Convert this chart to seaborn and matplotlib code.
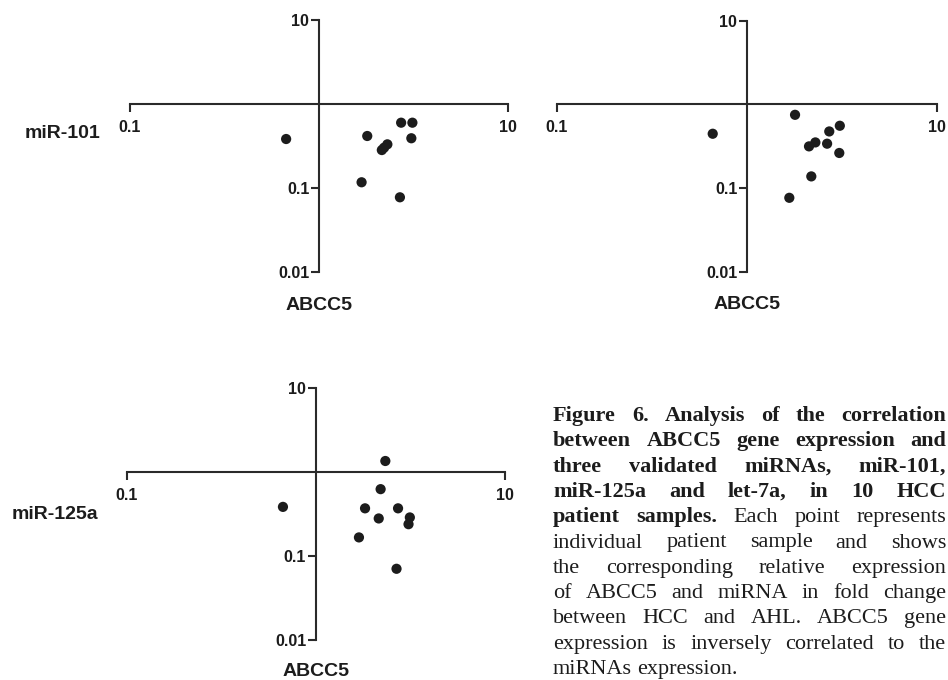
import numpy as np
import pandas as pd
import matplotlib
matplotlib.use("Agg")
import matplotlib.pyplot as plt
import seaborn as sns
from matplotlib.ticker import FixedLocator, FixedFormatter, NullLocator

# Relative expression (fold change HCC vs AHL), 10 patient samples per panel
abcc5_mir101 = [0.67, 1.80, 2.15, 2.21, 2.30, 2.72, 3.12, 3.08, 1.68, 2.68]
mir101 = [0.383, 0.416, 0.283, 0.302, 0.331, 0.599, 0.599, 0.391, 0.117, 0.0775]

abcc5_let7a = [0.66, 1.79, 2.12, 2.29, 2.64, 2.71, 3.08, 3.06, 2.18, 1.67]
let7a = [0.443, 0.746, 0.313, 0.349, 0.337, 0.472, 0.552, 0.261, 0.137, 0.076]

abcc5_mir125a = [0.67, 2.33, 2.20, 1.82, 2.72, 2.15, 3.14, 3.09, 1.69, 2.67]
mir125a = [0.386, 1.36, 0.628, 0.371, 0.371, 0.281, 0.289, 0.240, 0.167, 0.0706]

x_ticks = [0.1, 10]
x_tick_labels = ["0.1", "10"]
y_ticks = [0.01, 0.1, 10]
y_tick_labels = ["0.01", "0.1", "10"]

gene_label = "ABCC5"

caption_lines = [
    [("Figure 6. Analysis of the correlation", "bold")],
    [("between ABCC5 gene expression and", "bold")],
    [("three validated miRNAs, miR-101,", "bold")],
    [("miR-125a and let-7a, in 10 HCC", "bold")],
    [("patient samples.", "bold"), ("Each point represents", "normal")],
    [("individual patient sample and shows", "normal")],
    [("the corresponding relative expression", "normal")],
    [("of ABCC5 and miRNA in fold change", "normal")],
    [("between HCC and AHL. ABCC5 gene", "normal")],
    [("expression is inversely correlated to the", "normal")],
    [("miRNAs expression.", "normal")],
]

W, H = 948, 680
INK = "#1c1c1c"
AXIS = "#2a2a2a"

sns.set_style("ticks")
plt.rcParams["font.family"] = ["Liberation Sans", "DejaVu Sans"]

fig = plt.figure(figsize=(W / 100, H / 100), dpi=100)
fig.patch.set_facecolor("white")


def px_rect(x0, y0, x1, y1):
    return [x0 / W, 1 - y1 / H, (x1 - x0) / W, (y1 - y0) / H]


panels = [
    dict(rect=px_rect(130, 20, 508, 272), x=abcc5_mir101, y=mir101,
         ylabel="miR-101", ylab_xy=(-0.079, 0.55), xlab_y=-0.131),
    dict(rect=px_rect(557, 20.5, 937, 271.5), x=abcc5_let7a, y=let7a,
         ylabel="", ylab_xy=(-0.079, 0.55), xlab_y=-0.131),
    dict(rect=px_rect(126.7, 388.3, 505, 640), x=abcc5_mir125a, y=mir125a,
         ylabel="miR-125a", ylab_xy=(-0.076, 0.50), xlab_y=-0.127),
]

for p in panels:
    ax = fig.add_axes(p["rect"])
    df = pd.DataFrame({"gene": p["x"], "mirna": p["y"]})
    sns.scatterplot(data=df, x="gene", y="mirna", ax=ax, s=54, color=INK,
                    edgecolor="none", linewidth=0, legend=False, zorder=3)
    ax.set_xscale("log")
    ax.set_yscale("log")
    ax.set_xlim(0.1, 10)
    ax.set_ylim(0.01, 10)
    ax.set_facecolor("none")

    for side in ("top", "right"):
        ax.spines[side].set_visible(False)
    ax.spines["left"].set_position(("data", 1))
    ax.spines["bottom"].set_position(("data", 1))
    for side in ("left", "bottom"):
        ax.spines[side].set_linewidth(1.5)
        ax.spines[side].set_color(AXIS)

    ax.xaxis.set_major_locator(FixedLocator(x_ticks))
    ax.xaxis.set_major_formatter(FixedFormatter(x_tick_labels))
    ax.yaxis.set_major_locator(FixedLocator(y_ticks))
    ax.yaxis.set_major_formatter(FixedFormatter(y_tick_labels))
    ax.xaxis.set_minor_locator(NullLocator())
    ax.yaxis.set_minor_locator(NullLocator())

    ax.tick_params(axis="x", direction="out", length=6, width=1.5, pad=5.5,
                   labelsize=11.5, color=AXIS, labelcolor=INK)
    ax.tick_params(axis="y", direction="out", length=5.5, width=1.5, pad=1.5,
                   labelsize=11.5, color=AXIS, labelcolor=INK)
    for lab in ax.get_xticklabels() + ax.get_yticklabels():
        lab.set_fontweight("bold")

    ax.set_xlabel(gene_label, fontsize=14, fontweight="bold", color=INK,
                  va="center", ha="center")
    ax.xaxis.set_label_coords(0.5, p["xlab_y"])
    ax.set_ylabel(p["ylabel"], fontsize=14, fontweight="bold", color=INK,
                  rotation=0, ha="right", va="center")
    ax.yaxis.set_label_coords(*p["ylab_xy"])


# Justified caption block in the lower right
def draw_caption(lines, x0, x1, base0, step, size):
    renderer = fig.canvas.get_renderer()
    space_px = 0.25 * size * 100 / 72
    for i, segments in enumerate(lines):
        words = [(w, wt) for text, wt in segments for w in text.split()]
        y = 1 - (base0 + i * step) / H
        arts = [fig.text(0, y, w, fontsize=size, fontweight=wt,
                         family=["Liberation Serif", "DejaVu Serif"],
                         va="baseline", ha="left", color=INK)
                for w, wt in words]
        widths = [a.get_window_extent(renderer).width for a in arts]
        last = i == len(lines) - 1
        if last or len(arts) == 1:
            gap = space_px
        else:
            gap = (x1 - x0 - sum(widths)) / (len(arts) - 1)
        x = x0
        for a, w in zip(arts, widths):
            a.set_x(x / W)
            x += w + gap


draw_caption(caption_lines, 553, 946, 421, 25.3, 16)

fig.savefig("out.png", dpi=100, facecolor="white")
